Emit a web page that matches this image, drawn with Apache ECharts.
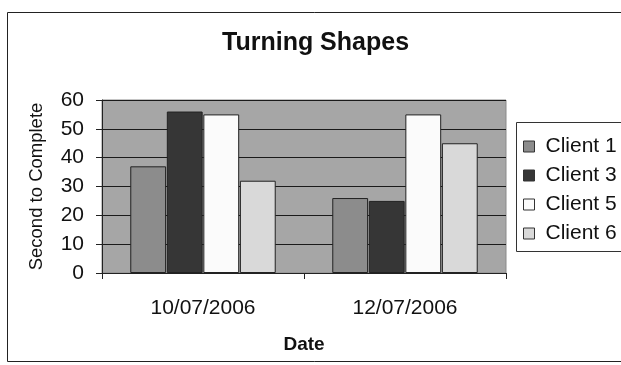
<!DOCTYPE html>
<html>
<head>
<meta charset="utf-8">
<script src="https://cdn.jsdelivr.net/npm/echarts@6/dist/echarts.min.js"></script>
<style>
  html, body { margin: 0; padding: 0; background: #fff; }
  #chart { width: 621px; height: 365px; }
</style>
</head>
<body>
<div id="chart"></div>
<script>
// Seconds to complete the shape-turning task, per client and session date
const dates = ['10/07/2006', '12/07/2006'];
const client1 = [37, 26];
const client3 = [56, 25];
const client5 = [55, 55];
const client6 = [32, 45];
const yTicks = [0, 10, 20, 30, 40, 50, 60];

const seriesDefs = [
  { name: 'Client 1', data: client1, color: '#8c8c8c' },
  { name: 'Client 3', data: client3, color: '#363636' },
  { name: 'Client 5', data: client5, color: '#fbfbfb' },
  { name: 'Client 6', data: client6, color: '#d9d9d9' }
];

const font = 'Liberation Sans, Arial, sans-serif';
const chart = echarts.init(document.getElementById('chart'), null, { renderer: 'canvas' });

chart.setOption({
  backgroundColor: '#ffffff',
  animation: false,
  title: {
    text: 'Turning Shapes',
    left: 222,
    top: 31,
    padding: 0,
    textStyle: { fontFamily: font, fontSize: 25, fontWeight: 'bold', color: '#111' }
  },
  graphic: [
    // outer chart frame
    { type: 'rect', shape: { x: 7.5, y: 12.5, width: 640, height: 349 }, style: { fill: 'none', stroke: '#222', lineWidth: 1 }, z: -1 },
    // legend frame
    { type: 'rect', shape: { x: 516.5, y: 122.5, width: 130, height: 129 }, style: { fill: '#fff', stroke: '#333', lineWidth: 1 }, z: 0 }
  ],
  legend: {
    orient: 'vertical',
    left: 523,
    top: 136,
    itemWidth: 11,
    itemHeight: 11,
    itemGap: 8,
    icon: 'rect',
    padding: 0,
    z: 5,
    textStyle: { fontFamily: font, fontSize: 21, lineHeight: 21, color: '#111', padding: [0, 0, 0, 6] },
    itemStyle: { borderColor: '#333', borderWidth: 1 },
    data: seriesDefs.map(s => s.name)
  },
  grid: {
    left: 102, right: 115, top: 100, bottom: 92,
    show: true,
    backgroundColor: '#a6a6a6',
    borderColor: '#8a8a8a',
    borderWidth: 1
  },
  xAxis: {
    type: 'category',
    data: dates,
    name: 'Date',
    nameLocation: 'middle',
    nameGap: 62,
    nameTextStyle: { fontFamily: font, fontSize: 19, fontWeight: 'bold', color: '#111' },
    axisLine: { lineStyle: { color: '#222', width: 1 } },
    axisTick: { show: true, length: 6, alignWithLabel: false, lineStyle: { color: '#222' } },
    axisLabel: { fontFamily: font, fontSize: 21, color: '#111', margin: 25 },
    splitLine: { show: false }
  },
  yAxis: {
    type: 'value',
    min: yTicks[0],
    max: yTicks[yTicks.length - 1],
    interval: 10,
    name: 'Second to Complete',
    nameLocation: 'middle',
    nameGap: 56,
    nameTextStyle: { fontFamily: font, fontSize: 18.5, color: '#111' },
    axisLine: { show: true, lineStyle: { color: '#222', width: 1 } },
    axisTick: { show: true, length: 6, lineStyle: { color: '#222' } },
    axisLabel: { fontFamily: font, fontSize: 21, color: '#111', margin: 18 },
    splitLine: { show: true, lineStyle: { color: '#1a1a1a', width: 1 } }
  },
  series: seriesDefs.map(s => ({
    name: s.name,
    type: 'bar',
    data: s.data,
    barGap: '2%',
    barCategoryGap: '28%',
    itemStyle: { color: s.color, borderColor: '#222', borderWidth: 1 }
  }))
});
</script>
</body>
</html>
